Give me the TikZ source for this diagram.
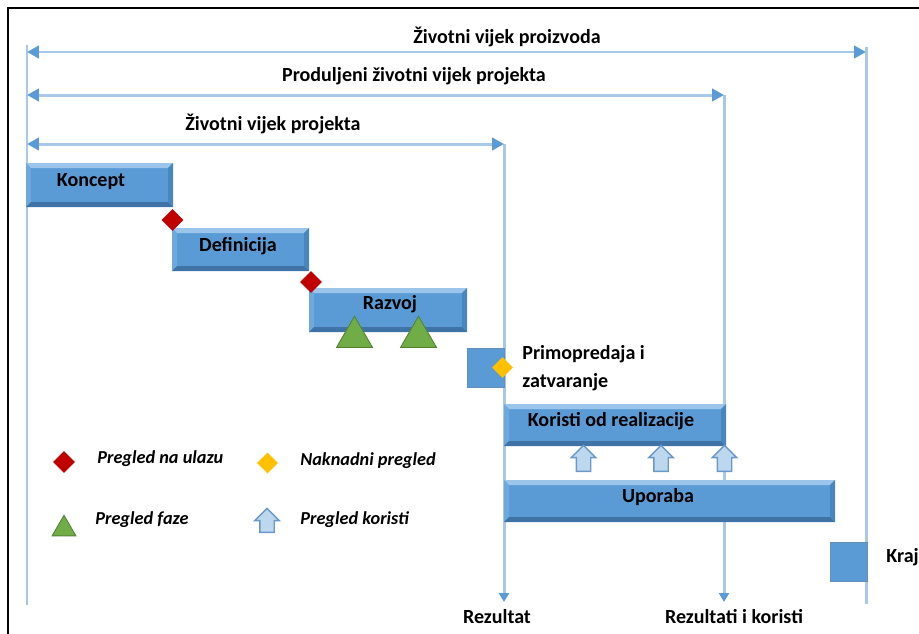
\documentclass[tikz,border=0pt]{standalone}
\usepackage{fontspec}
\setmainfont{Carlito}
\usetikzlibrary{arrows.meta,shapes.geometric,shapes.arrows,fit}
\definecolor{phblue}{HTML}{5B9BD5}
\definecolor{phtop}{HTML}{9CC5EB}
\definecolor{phlft}{HTML}{6EA8DD}
\definecolor{phrgt}{HTML}{4A86BE}
\definecolor{phbot}{HTML}{3F73A6}
\definecolor{lnblue}{HTML}{A8C8E9}
\definecolor{tipblue}{HTML}{5B9BD5}
\definecolor{gatered}{HTML}{C00000}
\definecolor{postylw}{HTML}{FFC000}
\definecolor{stgreen}{HTML}{70AD47}
\definecolor{stgreend}{HTML}{548235}
\definecolor{bnfill}{HTML}{BDD7EE}
\definecolor{bndraw}{HTML}{6A98C8}
\tikzset{
  ph/.style={rectangle,fill=phblue,inner sep=0pt,line width=0pt,
    path picture={
      \def\pb{path picture bounding box}
      \fill[phtop] (\pb.north west) -- (\pb.north east) -- ([xshift=-1mm,yshift=-1mm]\pb.north east)
        -- ([xshift=1mm,yshift=-1mm]\pb.north west) -- cycle;
      \fill[phlft] (\pb.north west) -- ([xshift=1mm,yshift=-1mm]\pb.north west)
        -- ([xshift=1mm,yshift=1mm]\pb.south west) -- (\pb.south west) -- cycle;
      \fill[phrgt] (\pb.north east) -- ([xshift=-1mm,yshift=-1mm]\pb.north east)
        -- ([xshift=-1mm,yshift=1mm]\pb.south east) -- (\pb.south east) -- cycle;
      \fill[phbot] (\pb.south west) -- (\pb.south east) -- ([xshift=-1mm,yshift=1mm]\pb.south east)
        -- ([xshift=1mm,yshift=1mm]\pb.south west) -- cycle;
    }},
  sq/.style={rectangle,fill=phblue,draw=phbot!80,line width=.5pt,inner sep=0pt},
  ln/.style={draw=lnblue,line width=1.7pt},
  span/.style={ln,{Triangle[color=tipblue,length=2.4mm,width=2.5mm]}-{Triangle[color=tipblue,length=2.4mm,width=2.5mm]}},
  res/.style={ln,-{Triangle[color=tipblue,length=1.8mm,width=2mm]}},
  gate/.style={diamond,fill=gatered,minimum width=4.4mm,minimum height=4.4mm,inner sep=0pt},
  post/.style={diamond,fill=postylw,minimum width=4.2mm,minimum height=4.2mm,inner sep=0pt},
  stage/.style={regular polygon,regular polygon sides=3,fill=stgreen,draw=stgreend,line width=.5pt,
    minimum size=8.3mm,inner sep=0pt},
  benefit/.style={single arrow,shape border rotate=90,fill=bnfill,draw=bndraw,line width=.8pt,
    minimum height=5.2mm,inner sep=1.3mm,single arrow head extend=1mm},
  tt/.style={font=\fontsize{11.4}{13}\selectfont\bfseries,inner sep=0pt},
  lg/.style={font=\fontsize{10.4}{12}\selectfont\bfseries\itshape,inner sep=0pt,anchor=west},
}
\begin{document}
\begin{tikzpicture}[x=0.02cm,y=-0.02cm]
\useasboundingbox (0,0) rectangle (919,633);
\clip (0,0) rectangle (919,633);
\draw[line width=1.2pt] (8,8) rectangle (960,680);
% ---- life-cycle spans
\coordinate (l0) at (27,45);   \coordinate (l1) at (27,605);
\coordinate (p0) at (866,47);  \coordinate (p1) at (866,604);
\coordinate (e0) at (724,95);  \coordinate (e1) at (724,602);
\coordinate (r0) at (504,144); \coordinate (r1) at (504,602);
\draw[ln] (l0) -- (l1);
\draw[ln] (p0) -- (p1);
\draw[res] (e0) -- (e1);
\draw[res] (r0) -- (r1);
\coordinate (a1) at (27,52);  \coordinate (b1) at (866,52);
\coordinate (a2) at (27,95);  \coordinate (b2) at (724,95);
\coordinate (a3) at (27,144); \coordinate (b3) at (504,144);
\draw[span] (a1) -- (b1);
\draw[span] (a2) -- (b2);
\draw[span] (a3) -- (b3);
\node[tt] (t1) at (507,37) {Životni vijek proizvoda};
\node[tt] (t2) at (414,76) {Produljeni životni vijek projekta};
\node[tt] (t3) at (273,124) {Životni vijek projekta};
% ---- phases
\node[ph,fit={(26,163)(173,207)}] (koncept) {};
\node[ph,fit={(172,228)(309,271)}] (definicija) {};
\node[ph,fit={(309,288)(467,332)}] (razvoj) {};
\node[sq,fit={(467,348)(504,387)}] (predaja) {};
\node[ph,fit={(504,404)(726,446)}] (koristi) {};
\node[ph,fit={(504,480)(835,522)}] (uporaba) {};
\node[sq,fit={(830,542)(867,581)}] (kraj) {};
\node[tt] (konceptT) at (91,182) {Koncept};
\node[tt] (definicijaT) at (238,246) {Definicija};
\node[tt] (razvojT) at (390,304) {Razvoj};
\node[tt] (koristiT) at (611,421) {Koristi od realizacije};
\node[tt] (uporabaT) at (658,497) {Uporaba};
\node[tt,anchor=west,align=left] (predajaT) at (522,368) {Primopredaja i\\[3pt]zatvaranje};
\node[tt,anchor=west] (krajT) at (886,557) {Kraj};
\node[tt] (rezT) at (497,617) {Rezultat};
\node[tt] (rezkT) at (734,617) {Rezultati i koristi};
% ---- reviews
\node[gate] (g1) at (172.5,220) {};
\node[gate] (g2) at (311,282) {};
\node[stage] (s1) at (354.5,337) {};
\node[stage] (s2) at (418.5,337) {};
\node[post] (pz) at (502.5,367.5) {};
\foreach \x/\n in {583.5/k1,661/k2,724.5/k3}
  \node[benefit] (\n) at (\x,462) {};
% ---- legend
\node[gate] (lgGate) at (64,462) {};
\node[lg] (lgGateT) at (97,459) {Pregled na ulazu};
\node[post] (lgPost) at (267.5,463) {};
\node[lg] (lgPostT) at (300,461) {Naknadni pregled};
\node[stage,minimum size=5.5mm] (lgStage) at (64,529) {};
\node[lg] (lgStageT) at (95,520) {Pregled faze};
\node[benefit,minimum height=4.8mm] (lgBen) at (267,524) {};
\node[lg] (lgBenT) at (300,520) {Pregled koristi};
\end{tikzpicture}
\end{document}
